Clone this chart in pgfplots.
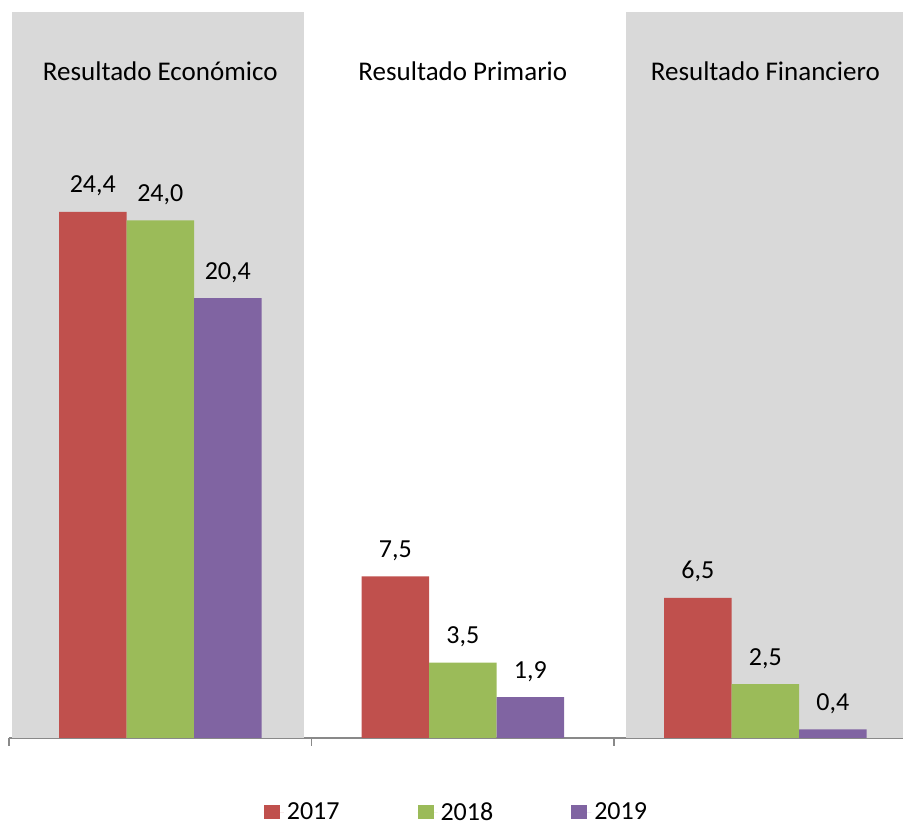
\documentclass[border=0pt]{standalone}
\usepackage{pgfplots}
\pgfplotsset{compat=1.18}
\usepackage{fontspec}
\setmainfont{Carlito}
\definecolor{cred}{HTML}{C0504D}
\definecolor{cgreen}{HTML}{9BBB59}
\definecolor{cpurple}{HTML}{8064A2}
\definecolor{cband}{HTML}{D9D9D9}
\definecolor{caxis}{HTML}{898989}
\begin{document}
\begin{tikzpicture}[font=\fontsize{26}{31}\selectfont]
\begin{axis}[
  at={(9pt,89pt)}, anchor=south west,
  scale only axis, width=894pt, height=726pt,
  xmin=-0.5, xmax=2.455, ymin=0, ymax=33.67,
  ybar=0pt, bar width=67.5pt,
  axis x line*=bottom, axis y line=none,
  x axis line style={color=caxis, line width=1.3pt},
  xtick={-0.5,0.5,1.5}, xticklabels={},
  major tick length=8pt, tick align=outside,
  xtick style={color=caxis, line width=1.3pt},
  ytick=\empty,
  nodes near coords,
  every node near coord/.append style={inner sep=0pt, anchor=base, yshift=19pt, font=\fontsize{26}{31}\selectfont, text=black},
  /pgf/number format/.cd, fixed, fixed zerofill, precision=1, use comma, assume math mode=true, /pgfplots/.cd,
  legend columns=3,
  legend style={draw=none, fill=none, at={(0.501,-0.102)}, anchor=center,
    /tikz/every even column/.append style={column sep=75pt},
    nodes={inner xsep=3pt, inner ysep=0pt, text=black}},
  legend image code/.code={\fill[#1, draw=none] (0pt,-7pt) rectangle (16pt,7pt); \path (0pt,0pt) -- (20pt,0pt);},
  clip=true,
]
\fill[cband] (axis cs:-0.489,0) rectangle (axis cs:0.476,33.67);
\fill[cband] (axis cs:1.54,0) rectangle (axis cs:2.6,33.67);
\addplot[fill=cred, draw=none] coordinates {(0,24.4) (1,7.5) (2,6.5)};
\addplot[fill=cgreen, draw=none] coordinates {(0,24.0) (1,3.5) (2,2.5)};
\addplot[fill=cpurple, draw=none] coordinates {(0,20.4) (1,1.9) (2,0.4)};
\legend{2017,2018,2019}
\node[anchor=base, inner sep=0pt, font=\fontsize{27}{32}\selectfont] at (axis cs:0,30.5) {Resultado Económico};
\node[anchor=base, inner sep=0pt, font=\fontsize{27}{32}\selectfont] at (axis cs:1,30.5) {Resultado Primario};
\node[anchor=base, inner sep=0pt, font=\fontsize{27}{32}\selectfont] at (axis cs:2,30.5) {Resultado Financiero};
\end{axis}
\pgfresetboundingbox
\path[use as bounding box] (0,0) rectangle (903pt,827pt);
\end{tikzpicture}
\end{document}
